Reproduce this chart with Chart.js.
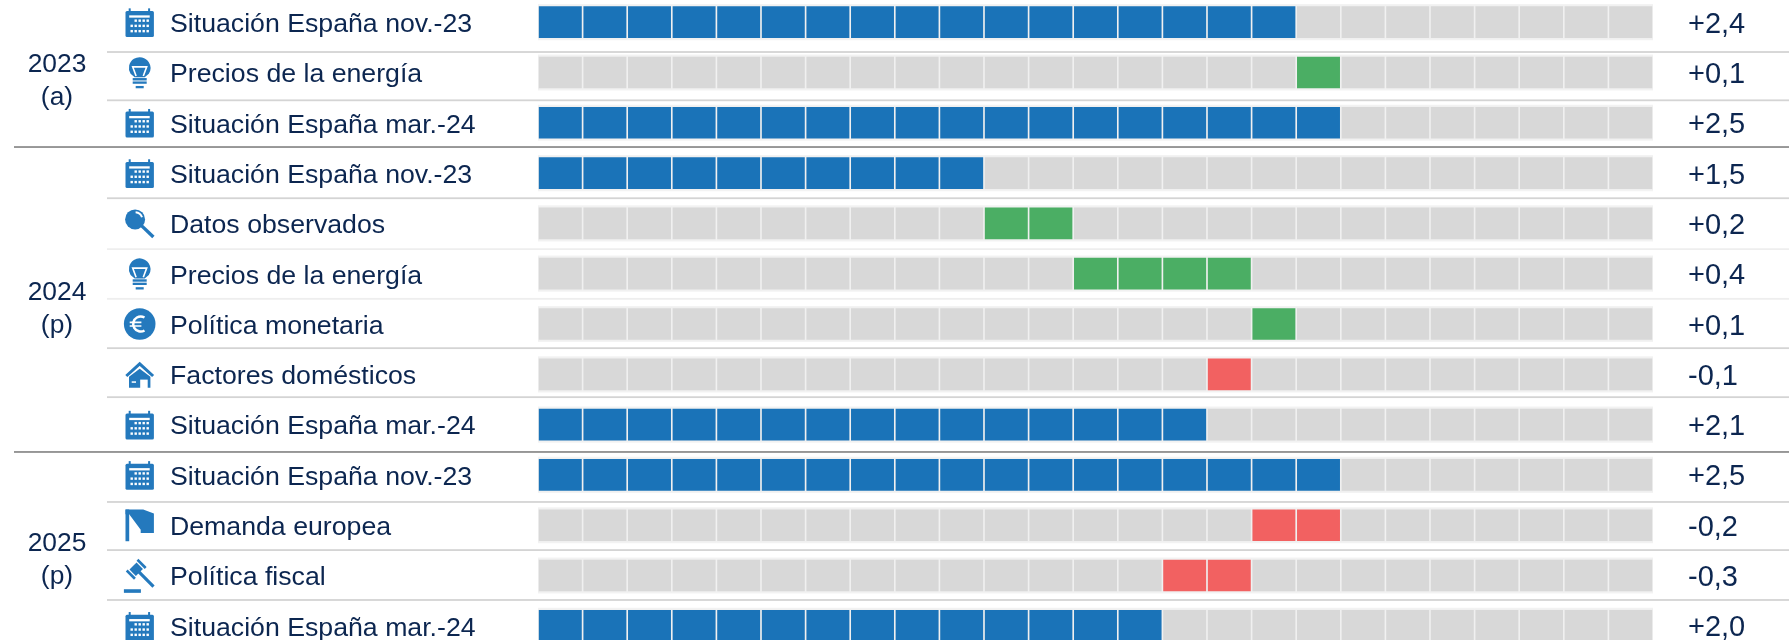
<!DOCTYPE html>
<html><head><meta charset="utf-8">
<style>html,body{margin:0;padding:0;background:#fff;overflow:hidden;width:1789px;height:640px}
canvas{position:absolute;left:0;top:-3px}</style>
<script src="https://cdn.jsdelivr.net/npm/chart.js@4"></script></head>
<body><canvas id="c" width="1789" height="654"></canvas>
<script>
const rowLabels=["Situación España nov.-23","Precios de la energía","Situación España mar.-24","Situación España nov.-23","Datos observados","Precios de la energía","Política monetaria","Factores domésticos","Situación España mar.-24","Situación España nov.-23","Demanda europea","Política fiscal","Situación España mar.-24"];
const valueLabels=["+2,4","+0,1","+2,5","+1,5","+0,2","+0,4","+0,1","-0,1","+2,1","+2,5","-0,2","-0,3","+2,0"];
const segStart=[0,17,0,0,10,12,16,15,0,0,16,14,0];
const segEnd=[17,18,18,10,12,16,17,16,15,18,18,16,14];
const segKind=["base","up","base","base","up","up","up","down","base","base","down","down","base"];
const iconKind=["cal","bulb","cal","cal","glass","bulb","euro","house","cal","cal","flag","gavel","cal"];
const yearLines=[["2023","(a)"],["2024","(p)"],["2025","(p)"]];
const yearRows=[1,5,10];
const yearShift=[8.5,36,34.5];
const sepOffset=[4.7,2.7,-.9,0,.6,0,-1,-2.3,2.2,1.9,-.3,-.7];
const sepStyle=["m","m","d","m","l","l","m","m","d","m","m","m"];

const cellCount=25, NAVY="#0c2650", ICON="#2479bd";
const colors={base:"#1a73b8",up:"#4bae64",down:"#f26161",empty:"#d8d8d8"};
const FONT="'Liberation Sans',Arial,sans-serif";

const bandData=rowLabels.map(()=>[0,cellCount]);
const datasets=[{label:"band",data:bandData,backgroundColor:"#f3f3f3",barThickness:35.5,order:100,grouped:false}];
for(let k=0;k<cellCount;k++){
  datasets.push({label:"c"+k,data:rowLabels.map(()=>[k,k+1]),order:50-k,barThickness:33.3,
    borderWidth:1.15,borderColor:"#f0f0f0",borderSkipped:false,
    backgroundColor:rowLabels.map((_,r)=>k>=segStart[r]&&k<segEnd[r]?colors[segKind[r]]:colors.empty)});
}

function poly(c,pts){c.beginPath();pts.forEach((p,i)=>i?c.lineTo(p[0],p[1]):c.moveTo(p[0],p[1]));c.closePath();c.fill();}
const icons={
 cal(c){c.fillStyle=ICON;c.beginPath();c.roundRect(-14.2,-11.2,28.4,26,1.5);c.fill();c.fillRect(-11,-13.8,2,4);c.fillRect(8.4,-13.8,2,4);
  c.fillStyle="#fff";c.fillRect(-10.5,-6.8,20.5,2.3);
  [-1.5,3.7,9].forEach((y,i)=>[-8,-4,0,4,8].forEach((x,j)=>{if(i==0&&j<1)return;c.fillRect(x-1.2,y-1.2,2.4,2.4);}));},
 bulb(c){c.fillStyle=ICON;c.beginPath();c.arc(0,-4.5,10.8,Math.PI*0.82,Math.PI*0.18);c.lineTo(5,4.8);c.lineTo(-5,4.8);c.closePath();c.fill();
  c.strokeStyle="#fff";c.lineWidth=1.6;c.beginPath();c.moveTo(-3.6,3.5);c.lineTo(-7,-5.6);c.lineTo(7,-5.6);c.lineTo(3.6,3.5);c.stroke();
  c.fillStyle=ICON;c.fillRect(-7,5.6,14,2.4);c.fillRect(-7,9,14,2.3);c.fillRect(-4,13.5,8,2.3);},
 glass(c){c.fillStyle=ICON;c.beginPath();c.arc(-4.6,-4,10,0,7);c.fill();c.strokeStyle=ICON;c.lineWidth=3.4;c.beginPath();c.moveTo(1,1.5);c.lineTo(13.7,13.7);c.stroke();
  c.strokeStyle="#fff";c.lineWidth=2;c.beginPath();c.arc(-4.6,-4,7.2,-1.5,-.3);c.stroke();},
 euro(c){c.fillStyle=ICON;c.beginPath();c.arc(0,0,15.8,0,7);c.fill();c.strokeStyle="#fff";c.lineWidth=2.5;c.beginPath();c.arc(1,0,7.5,1.04,Math.PI*2-1.04);c.stroke();
  c.lineWidth=1.7;c.beginPath();c.moveTo(-10,-1.7);c.lineTo(1.7,-1.7);c.moveTo(-10,2);c.lineTo(1.7,2);c.stroke();},
 house(c){c.strokeStyle=ICON;c.lineWidth=3;c.beginPath();c.moveTo(-13.4,1.7);c.lineTo(0,-10.5);c.lineTo(13.4,1.7);c.stroke();
  c.fillStyle=ICON;poly(c,[[0,-5.5],[10.7,2.5],[10.7,13.5],[-10.7,13.5],[-10.7,2.5]]);
  c.fillStyle="#fff";c.fillRect(.5,5.3,7.5,8.5);c.fillRect(-8,7,4.3,1.5);},
 flag(c){c.fillStyle=ICON;c.fillRect(-14.2,-15.7,3.7,31.7);
  poly(c,[[-14.2,-15.7],[3.5,-15.7],[14.2,-11.7],[14.2,7.7],[1,7.7],[1,4.5],[-10.5,-11],[-14.2,-11]]);},
 gavel(c){c.fillStyle=ICON;c.fillRect(-15.8,13.7,17,3.6);c.save();c.translate(-3.5,-6.3);c.rotate(-Math.PI/4);
  c.fillRect(-5,-4.5,10,9);c.fillRect(-1.6,0,3.2,24.5);c.fillRect(-8.9,-5.8,2.6,11.6);c.fillRect(6.3,-5.8,2.6,11.6);c.restore();}
};

const deco={id:"deco",
 afterDatasetsDraw(ch){
  const c=ch.ctx,y=ch.scales.y,step=y.getPixelForValue(1)-y.getPixelForValue(0);
  c.save();
  sepOffset.forEach((o,i)=>{const p=y.getPixelForValue(i)+step/2+o,s=sepStyle[i];
   c.fillStyle=s=="d"?"#8f8f8f":s=="m"?"#d4d4d4":"#eeeeee";
   c.fillRect(s=="d"?14:107,p-.9,1789,1.8);});
  iconKind.forEach((k,i)=>{c.save();c.translate(139.7,y.getPixelForValue(i));icons[k](c);c.restore();});
  c.fillStyle=NAVY;c.font="26.4px "+FONT;c.textAlign="center";c.textBaseline="middle";
  yearLines.forEach((l,i)=>{const p=y.getPixelForValue(yearRows[i])+yearShift[i];
   c.fillText(l[0],57,p-16.5);c.fillText(l[1],57,p+16.5);});
  c.restore();
 }};
function noPad(s){s.paddingTop=0;s.paddingBottom=0;s.paddingLeft=0;s.paddingRight=0;}

new Chart(document.getElementById("c"),{type:"bar",plugins:[deco],
 data:{labels:rowLabels,datasets},
 options:{indexAxis:"y",responsive:false,animation:false,
  layout:{autoPadding:false,padding:{left:170,right:0,top:0,bottom:0}},
  datasets:{bar:{grouped:false}},
  plugins:{legend:{display:false},tooltip:{enabled:false}},
  scales:{
   x:{type:"linear",min:0,max:cellCount,display:false},
   y:{type:"category",position:"left",offset:true,
      grid:{display:false,drawTicks:false},border:{display:false},
      afterFit(s){s.width=368;noPad(s);},
      ticks:{crossAlign:"far",autoSkip:false,color:NAVY,padding:0,labelOffset:2.5,font:{family:FONT,size:26.7}}},
   y2:{type:"category",position:"right",labels:valueLabels,offset:true,
      grid:{display:false,drawTicks:false},border:{display:false},
      afterFit(s){s.width=136;noPad(s);},
      ticks:{crossAlign:"near",autoSkip:false,color:NAVY,padding:35,labelOffset:2.5,font:{family:FONT,size:29}}}
  }}});
</script></body></html>
